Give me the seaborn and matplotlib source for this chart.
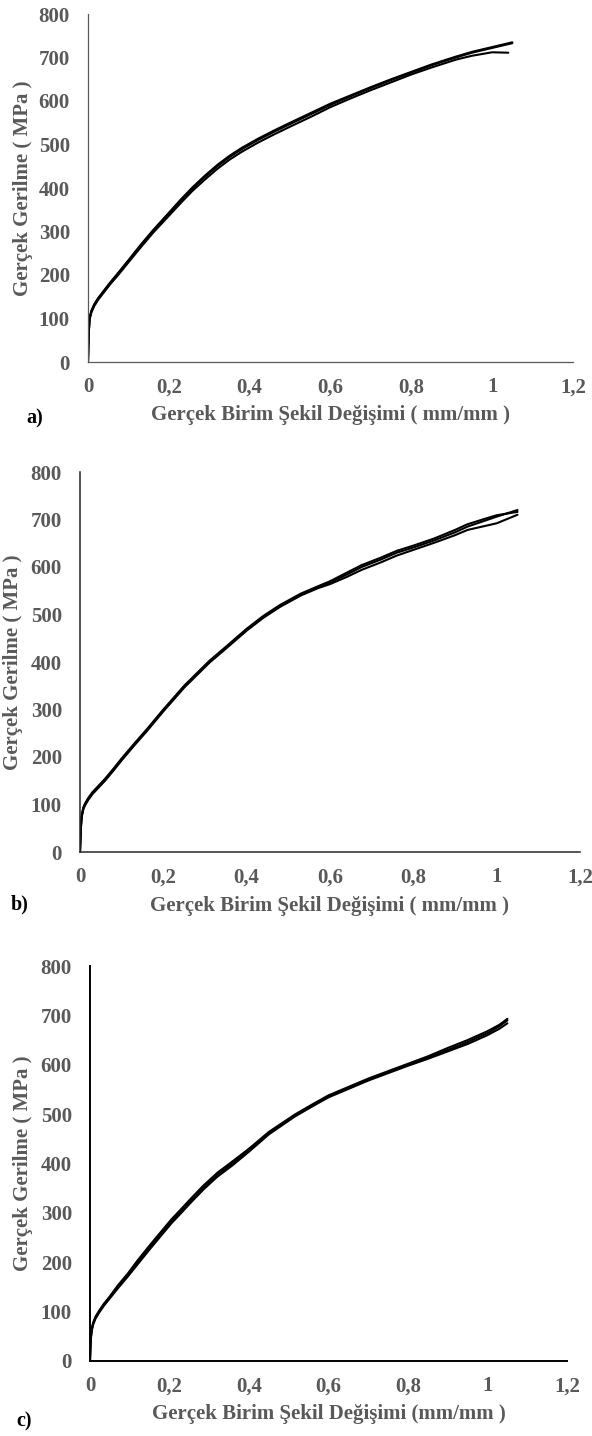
import numpy as np
import pandas as pd
import matplotlib
matplotlib.use("Agg")
import matplotlib.pyplot as plt
import seaborn as sns

# ---------------- data ----------------
# Panel a
a_strain_1 = [0, 0.001, 0.002, 0.004, 0.008, 0.015, 0.025, 0.04, 0.055, 0.072, 0.1, 0.13, 0.16, 0.2, 0.23, 0.258, 0.29, 0.32, 0.35, 0.38, 0.42, 0.46, 0.5, 0.55, 0.6, 0.65, 0.7, 0.75, 0.8, 0.85, 0.91, 0.95, 1.0, 1.05]
a_stress_1 = [0, 40, 70, 100, 115, 130, 145, 163, 181, 200, 232, 267, 300, 341, 371, 398, 426, 450, 471, 489, 510, 529, 547, 569, 591, 611, 630, 648, 665, 682, 700, 711, 722, 733]
a_strain_2 = [0, 0.001, 0.002, 0.004, 0.008, 0.015, 0.025, 0.04, 0.055, 0.072, 0.1, 0.13, 0.16, 0.2, 0.23, 0.258, 0.29, 0.32, 0.35, 0.38, 0.42, 0.46, 0.5, 0.55, 0.6, 0.65, 0.7, 0.75, 0.8, 0.85, 0.91, 0.95, 1.0, 1.05]
a_stress_2 = [0, 42, 72, 102, 117, 132, 147, 165, 183, 202, 234, 269, 302, 343, 374, 401, 429, 453, 474, 492, 513, 532, 550, 572, 594, 613, 632, 650, 667, 684, 702, 713, 724, 735]
a_strain_3 = [0, 0.001, 0.002, 0.004, 0.008, 0.015, 0.025, 0.04, 0.055, 0.072, 0.1, 0.13, 0.16, 0.2, 0.23, 0.258, 0.29, 0.32, 0.35, 0.38, 0.42, 0.46, 0.5, 0.55, 0.6, 0.65, 0.7, 0.75, 0.8, 0.85, 0.91, 0.95, 1.0, 1.04]
a_stress_3 = [0, 38, 68, 98, 113, 128, 143, 161, 179, 197, 229, 263, 296, 336, 366, 393, 420, 444, 465, 483, 504, 523, 541, 563, 586, 606, 625, 643, 661, 677, 695, 704, 712, 711]

# Panel b
b_strain_1 = [0, 0.002, 0.004, 0.008, 0.012, 0.02, 0.03, 0.045, 0.06, 0.08, 0.1, 0.13, 0.16, 0.2, 0.25, 0.31, 0.35, 0.4, 0.44, 0.48, 0.53, 0.57, 0.6, 0.64, 0.676, 0.72, 0.76, 0.8, 0.85, 0.9, 0.93, 0.97, 1.0, 1.05]
b_stress_1 = [0, 50, 75, 92, 100, 112, 124, 138, 152, 173, 195, 226, 256, 298, 348, 400, 430, 468, 495, 518, 542, 557, 567, 584, 600, 615, 630, 641, 656, 673, 685, 697, 706, 720]
b_strain_2 = [0, 0.002, 0.004, 0.008, 0.012, 0.02, 0.03, 0.045, 0.06, 0.08, 0.1, 0.13, 0.16, 0.2, 0.25, 0.31, 0.35, 0.4, 0.44, 0.48, 0.53, 0.57, 0.6, 0.64, 0.676, 0.72, 0.76, 0.8, 0.85, 0.9, 0.93, 0.97, 1.0, 1.05]
b_stress_2 = [0, 52, 77, 94, 102, 114, 126, 140, 154, 175, 197, 228, 258, 300, 350, 402, 432, 470, 497, 520, 544, 559, 570, 588, 604, 619, 634, 645, 660, 678, 690, 701, 709, 716]
b_strain_3 = [0, 0.002, 0.004, 0.008, 0.012, 0.02, 0.03, 0.045, 0.06, 0.08, 0.1, 0.13, 0.16, 0.2, 0.25, 0.31, 0.35, 0.4, 0.44, 0.48, 0.53, 0.57, 0.6, 0.64, 0.676, 0.72, 0.76, 0.8, 0.85, 0.9, 0.93, 0.97, 1.0, 1.05]
b_stress_3 = [0, 48, 73, 90, 98, 110, 122, 136, 150, 171, 193, 224, 254, 296, 346, 398, 428, 466, 493, 516, 540, 555, 564, 579, 594, 609, 624, 636, 651, 667, 678, 686, 692, 710]

# Panel c
c_strain_1 = [0, 0.001, 0.002, 0.004, 0.008, 0.014, 0.023, 0.035, 0.05, 0.07, 0.095, 0.12, 0.15, 0.18, 0.205, 0.225, 0.255, 0.285, 0.32, 0.358, 0.4, 0.45, 0.515, 0.56, 0.6, 0.65, 0.7, 0.75, 0.8, 0.85, 0.9, 0.95, 1.0, 1.03, 1.05]
c_stress_1 = [0, 30, 45, 62, 76, 88, 100, 114, 129, 150, 174, 200, 230, 259, 283, 300, 326, 351, 377, 400, 427, 462, 497, 518, 536, 553, 570, 585, 600, 614, 630, 646, 664, 678, 690]
c_strain_2 = [0, 0.001, 0.002, 0.004, 0.008, 0.014, 0.023, 0.035, 0.05, 0.07, 0.095, 0.12, 0.15, 0.18, 0.205, 0.225, 0.255, 0.285, 0.32, 0.358, 0.4, 0.45, 0.515, 0.56, 0.6, 0.65, 0.7, 0.75, 0.8, 0.85, 0.9, 0.95, 1.0, 1.03, 1.05]
c_stress_2 = [0, 32, 47, 64, 78, 90, 102, 116, 131, 153, 177, 204, 234, 263, 287, 304, 330, 355, 381, 404, 430, 464, 499, 520, 538, 555, 572, 587, 602, 617, 634, 650, 668, 681, 693]
c_strain_3 = [0, 0.001, 0.002, 0.004, 0.008, 0.014, 0.023, 0.035, 0.05, 0.07, 0.095, 0.12, 0.15, 0.18, 0.205, 0.225, 0.255, 0.285, 0.32, 0.358, 0.4, 0.45, 0.515, 0.56, 0.6, 0.65, 0.7, 0.75, 0.8, 0.85, 0.9, 0.95, 1.0, 1.03, 1.05]
c_stress_3 = [0, 28, 43, 60, 74, 86, 98, 112, 127, 147, 171, 196, 226, 255, 279, 296, 322, 347, 373, 396, 424, 459, 495, 516, 534, 551, 568, 583, 598, 612, 627, 642, 660, 673, 684]

x_ticks = [0, 0.2, 0.4, 0.6, 0.8, 1.0, 1.2]
x_tick_labels = ["0", "0,2", "0,4", "0,6", "0,8", "1", "1,2"]
y_ticks = [0, 100, 200, 300, 400, 500, 600, 700, 800]
y_tick_labels = [str(v) for v in y_ticks]

ylabel_text = "Gerçek Gerilme ( MPa )"
xlabel_texts = ["Gerçek Birim Şekil Değişimi ( mm/mm )",
                "Gerçek Birim Şekil Değişimi ( mm/mm )",
                "Gerçek Birim Şekil Değişimi (mm/mm )"]
panel_letters = ["a)", "b)", "c)"]

# ---------------- style ----------------
sns.set_theme(style="white")
plt.rcParams["font.family"] = ["Liberation Serif", "DejaVu Serif"]
plt.rcParams["font.weight"] = "bold"

W, H = 592, 1436
fig = plt.figure(figsize=(W / 100, H / 100), dpi=100)
fig.patch.set_facecolor("white")

# axes boxes in pixels: left, right, top, bottom
boxes = [(88, 573, 14, 362), (80, 580, 472, 852), (90, 567, 966, 1361)]
spine_colors = ["#595959", "#262626", "#000000"]
spine_widths = [0.9, 1.1, 1.4]
ylabel_px = [23, 13, 23]
letter_px = [(35, 418), (20, 904), (24, 1421)]
xlabel_off = [53, 54, 53]

panels = [
    [(a_strain_1, a_stress_1), (a_strain_2, a_stress_2), (a_strain_3, a_stress_3)],
    [(b_strain_1, b_stress_1), (b_strain_2, b_stress_2), (b_strain_3, b_stress_3)],
    [(c_strain_1, c_stress_1), (c_strain_2, c_stress_2), (c_strain_3, c_stress_3)],
]

grey = "#595959"

for i, series in enumerate(panels):
    l, r, t, b = boxes[i]
    ax = fig.add_axes([l / W, 1 - b / H, (r - l) / W, (b - t) / H])
    rows = []
    for k, (sx, sy) in enumerate(series):
        for xv, yv in zip(sx, sy):
            rows.append({"strain": xv, "stress": yv, "spec": f"S{k+1}"})
    df = pd.DataFrame(rows)
    sns.lineplot(data=df, x="strain", y="stress", hue="spec", units="spec",
                 estimator=None, sort=False, palette=["black"] * 3,
                 linewidth=1.5, legend=False, ax=ax)
    ax.set_xlim(0, 1.2)
    ax.set_ylim(0, 800)
    ax.set_xticks(x_ticks)
    ax.set_xticklabels(x_tick_labels)
    ax.set_yticks(y_ticks)
    ax.set_yticklabels(y_tick_labels)
    ax.tick_params(axis="both", length=0, labelsize=15, labelcolor=grey)
    ax.tick_params(axis="y", pad=13)
    ax.tick_params(axis="x", pad=11)
    for lab in ax.get_xticklabels() + ax.get_yticklabels():
        lab.set_fontweight("bold")
    for s in ["top", "right"]:
        ax.spines[s].set_visible(False)
    for s in ["left", "bottom"]:
        ax.spines[s].set_color(spine_colors[i])
        ax.spines[s].set_linewidth(spine_widths[i])
    ax.set_facecolor("white")
    ax.grid(False)

    ax.set_ylabel(ylabel_text, fontsize=15, fontweight="bold", color=grey,
                  va="center", ha="center")
    ax.yaxis.set_label_coords((ylabel_px[i] - l) / (r - l), 0.5)
    ax.set_xlabel(xlabel_texts[i], fontsize=15, fontweight="bold", color=grey,
                  va="center", ha="center")
    ax.xaxis.set_label_coords(0.5, -xlabel_off[i] / (b - t))

    lx, ly = letter_px[i]
    fig.text(lx / W, 1 - ly / H, panel_letters[i], fontsize=14.5, fontweight="bold",
             color="black", ha="center", va="center")

fig.savefig("out.png", dpi=100, facecolor="white")
